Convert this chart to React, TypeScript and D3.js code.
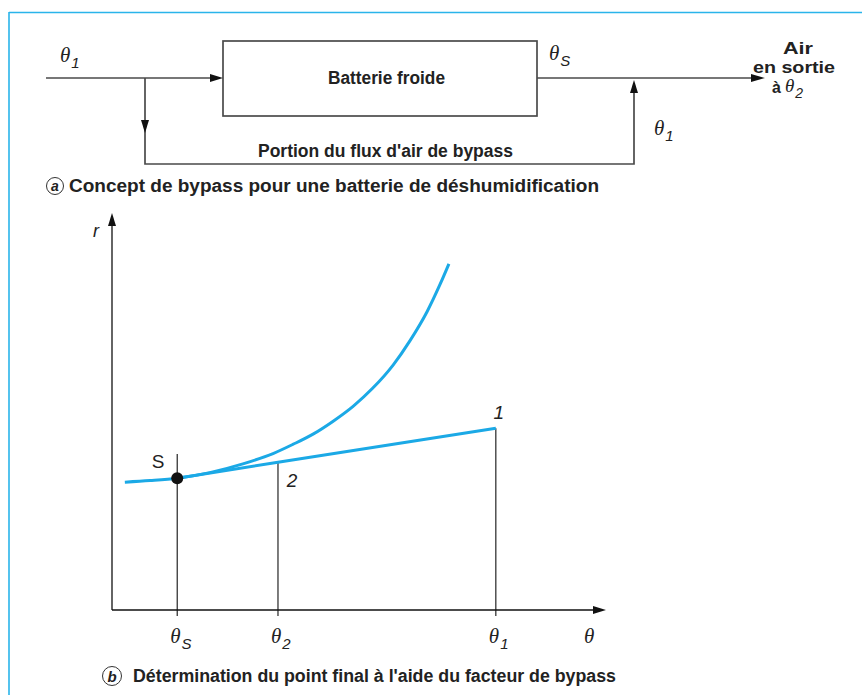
import React from "react";
import * as d3 from "d3";

// ---- Data (arbitrary units: θ on x, r on y) ----
const curveTheta = [2.6, 7.7, 13.2, 19.8, 26.5, 32.6, 36.6, 40.7, 44.7, 48.8, 52.8, 56.9, 60.3, 63.8, 66.4, 68.2];
const curveR = [32.2, 32.6, 33.2, 34.6, 36.8, 39.4, 41.7, 44.3, 47.5, 51.3, 55.9, 61.7, 67.8, 75.2, 82.0, 87.2];
const pointNames = ["S", "2", "1"];
const pointTheta = [13.2, 33.6, 77.7];
const pointR = [33.2, 37.2, 45.8];
const tickLabels = ["S", "2", "1"];

const W = 862;
const H = 695;
const BLUE = "#1ba9e6";
const FRAME = "#2ab4ea";
const GRAY = "#4a4a4a";

function Theta({ x, y, sub, size = 21, subSize = 15 }: { x: number; y: number; sub?: string; size?: number; subSize?: number }) {
  return (
    <text x={x} y={y} fontFamily="'Liberation Serif', serif" fontStyle="italic" fontSize={size} fill="#222">
      θ
      {sub ? (
        <tspan dx={1} dy={6} fontFamily="'Liberation Sans', Arial, sans-serif" fontSize={subSize}>
          {sub}
        </tspan>
      ) : null}
    </text>
  );
}

function Arrow({ x, y, dir, len = 12, hw = 4, fill = "#111" }: { x: number; y: number; dir: "r" | "u" | "d"; len?: number; hw?: number; fill?: string }) {
  let pts = "";
  if (dir === "r") pts = `${x},${y} ${x - len},${y - hw} ${x - len},${y + hw}`;
  if (dir === "u") pts = `${x},${y} ${x - hw},${y + len} ${x + hw},${y + len}`;
  if (dir === "d") pts = `${x},${y} ${x - hw},${y - len} ${x + hw},${y - len}`;
  return <polygon points={pts} fill={fill} />;
}

export default function App() {
  const x = d3.scaleLinear().domain([0, 100]).range([112, 606]);
  const y = d3.scaleLinear().domain([0, 100]).range([610, 213]);

  const curveData = curveTheta.map((t, i) => [t, curveR[i]] as [number, number]);
  const curvePath = d3
    .line<[number, number]>()
    .x((d) => x(d[0]))
    .y((d) => y(d[1]))
    .curve(d3.curveMonotoneX)(curveData) as string;

  const S = { t: pointTheta[0], r: pointR[0] };
  const P2 = { t: pointTheta[1], r: pointR[1] };
  const P1 = { t: pointTheta[2], r: pointR[2] };
  const linePath = d3
    .line<{ t: number; r: number }>()
    .x((d) => x(d.t))
    .y((d) => y(d.r))([S, P2, P1]) as string;

  const below = -1.5;
  const sans = "'Liberation Sans', Arial, sans-serif";

  // diagram (a) layout
  const mainY = 78;
  const boxL = 223, boxR = 537, boxT = 41, boxB = 116;
  const splitX = 145, mergeX = 634, bypassY = 164;

  return (
    <svg width={W} height={H} style={{ position: "absolute", left: 0, top: 0, background: "#fff" }}>
      <rect width={W} height={H} fill="#fff" />
      {/* frame */}
      <line x1={9} y1={12.5} x2={W} y2={12.5} stroke={FRAME} strokeWidth={1.6} />
      <line x1={9} y1={12} x2={9} y2={H} stroke={FRAME} strokeWidth={1.6} />

      {/* ---------- (a) ---------- */}
      <g stroke={GRAY} strokeWidth={1.7} fill="none">
        <line x1={46} y1={mainY} x2={boxL - 10} y2={mainY} />
        <rect x={boxL} y={boxT} width={boxR - boxL} height={boxB - boxT} />
        <line x1={boxR} y1={mainY} x2={754} y2={mainY} />
        <polyline points={`${splitX},${mainY} ${splitX},${bypassY} ${mergeX},${bypassY} ${mergeX},${mainY + 10}`} />
      </g>
      <Arrow x={boxL} y={mainY} dir="r" len={13} hw={4} />
      <Arrow x={765} y={mainY} dir="r" len={14} hw={4} />
      <Arrow x={splitX} y={133} dir="d" len={13} hw={4} />
      <Arrow x={mergeX} y={mainY + 2} dir="u" len={13} hw={4} />

      <text x={328} y={84} fontFamily={sans} fontWeight="bold" fontSize={18} textLength={117} lengthAdjust="spacingAndGlyphs" fill="#222">
        Batterie froide
      </text>
      <text x={258} y={157} fontFamily={sans} fontWeight="bold" fontSize={18} textLength={255} lengthAdjust="spacingAndGlyphs" fill="#222">
        Portion du flux d'air de bypass
      </text>
      <Theta x={60} y={62} sub="1" />
      <Theta x={549} y={60} sub="S" />
      <Theta x={654} y={135} sub="1" />

      <text x={798} y={54} textAnchor="middle" fontFamily={sans} fontWeight="bold" fontSize={16} textLength={30} lengthAdjust="spacingAndGlyphs" fill="#222">
        Air
      </text>
      <text x={794} y={73} textAnchor="middle" fontFamily={sans} fontWeight="bold" fontSize={16} textLength={82} lengthAdjust="spacingAndGlyphs" fill="#222">
        en sortie
      </text>
      <text x={772} y={93} fontFamily={sans} fontWeight="bold" fontSize={16} fill="#222">
        à
      </text>
      <Theta x={785} y={92} sub="2" size={19} subSize={14} />

      <circle cx={55} cy={186} r={8.5} fill="none" stroke="#333" strokeWidth={1} />
      <text x={55} y={191} textAnchor="middle" fontFamily={sans} fontWeight="bold" fontStyle="italic" fontSize={14} fill="#222">
        a
      </text>
      <text x={69} y={192} fontFamily={sans} fontWeight="bold" fontSize={18} textLength={530} lengthAdjust="spacingAndGlyphs" fill="#222">
        Concept de bypass pour une batterie de déshumidification
      </text>

      {/* ---------- (b) ---------- */}
      {/* axes */}
      <line x1={x(0)} y1={y(0)} x2={x(0)} y2={y(100) + 10} stroke="#111" strokeWidth={1.3} />
      <Arrow x={x(0)} y={y(100)} dir="u" len={13} hw={4} />
      <line x1={x(0)} y1={y(0)} x2={x(100) - 10} y2={y(0)} stroke="#111" strokeWidth={1.3} />
      <Arrow x={x(100)} y={y(0)} dir="r" len={13} hw={4} />
      <text x={93} y={237} fontFamily={sans} fontStyle="italic" fontSize={18} fill="#222">r</text>
      <Theta x={584} y={643} />

      {/* vertical drop lines */}
      <line x1={x(S.t)} y1={y(39.3)} x2={x(S.t)} y2={y(below)} stroke="#111" strokeWidth={1.1} />
      <line x1={x(P2.t)} y1={y(P2.r)} x2={x(P2.t)} y2={y(below)} stroke="#111" strokeWidth={1.1} />
      <line x1={x(P1.t)} y1={y(P1.r)} x2={x(P1.t)} y2={y(below)} stroke="#111" strokeWidth={1.1} />

      {/* curves */}
      <path d={curvePath} fill="none" stroke={BLUE} strokeWidth={3} strokeLinecap="butt" />
      <path d={linePath} fill="none" stroke={BLUE} strokeWidth={3} />
      <circle cx={x(S.t)} cy={y(S.r)} r={6} fill="#111" />

      {/* point labels */}
      <text x={x(S.t) - 19} y={y(S.r) - 10} textAnchor="middle" fontFamily={sans} fontSize={19} fill="#222">{pointNames[0]}</text>
      <text x={x(P2.t) + 14} y={y(P2.r) + 25} textAnchor="middle" fontFamily={sans} fontStyle="italic" fontSize={19} fill="#222">{pointNames[1]}</text>
      <text x={x(P1.t) + 3} y={y(P1.r) - 9} textAnchor="middle" fontFamily={sans} fontStyle="italic" fontSize={19} fill="#222">{pointNames[2]}</text>

      {/* θ tick labels */}
      {pointTheta.map((t, i) => (
        <Theta key={i} x={x(t) - 7} y={643} sub={tickLabels[i]} />
      ))}

      <circle cx={112} cy={676} r={9.5} fill="none" stroke="#333" strokeWidth={1} />
      <text x={112} y={681.5} textAnchor="middle" fontFamily={sans} fontWeight="bold" fontStyle="italic" fontSize={15} fill="#222">
        b
      </text>
      <text x={133} y={682} fontFamily={sans} fontWeight="bold" fontSize={18} textLength={483} lengthAdjust="spacingAndGlyphs" fill="#222">
        Détermination du point final à l'aide du facteur de bypass
      </text>
    </svg>
  );
}
